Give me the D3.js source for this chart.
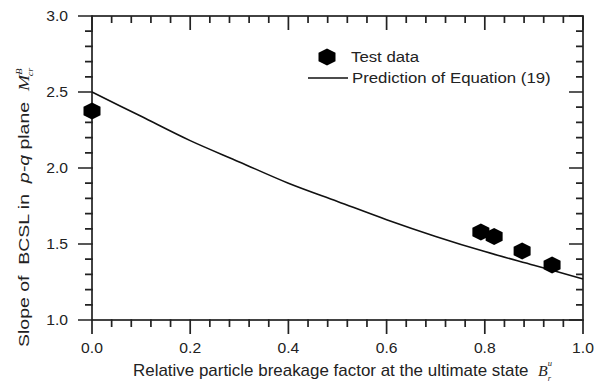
<!DOCTYPE html>
<html>
<head>
<meta charset="utf-8">
<script src="https://cdn.jsdelivr.net/npm/d3@7"></script>
<style>
  html, body { margin: 0; padding: 0; background: #fff; }
  svg { display: block; }
  text { font-family: "Liberation Sans", Arial, sans-serif; fill: #222; white-space: pre; }
</style>
</head>
<body>
<svg id="chart" width="608" height="383"></svg>
<script>
// ---- data ----
const xTickValues = [0.0, 0.2, 0.4, 0.6, 0.8, 1.0];
const xTickLabels = ["0.0", "0.2", "0.4", "0.6", "0.8", "1.0"];
const yTickValues = [1.0, 1.5, 2.0, 2.5, 3.0];
const yTickLabels = ["1.0", "1.5", "2.0", "2.5", "3.0"];

const testB = [0.0, 0.792, 0.819, 0.876, 0.937];
const testM = [2.375, 1.579, 1.549, 1.454, 1.362];

const predB = [0.0, 0.1, 0.2, 0.3, 0.4, 0.5, 0.6, 0.7, 0.8, 0.9, 1.0];
const predM = [2.50, 2.34, 2.18, 2.04, 1.90, 1.78, 1.66, 1.55, 1.45, 1.36, 1.27];

const legendLabels = ["Test data", "Prediction of Equation (19)"];

// ---- layout ----
const svg = d3.select("#chart");
const L = 92, R = 583, T = 16, B = 320;
const x = d3.scaleLinear().domain([0, 1]).range([L, R]);
const y = d3.scaleLinear().domain([1, 3]).range([B, T]);
const axisColor = "#222";
const SX = 1.12;
const SW = 1.7;

const xMinor = d3.range(0, 1.0001, 0.04).filter(v => xTickValues.every(t => Math.abs(t - v) > 1e-6));
const yMinor = d3.range(1, 3.0001, 0.1).filter(v => yTickValues.every(t => Math.abs(t - v) > 1e-6));

// frame
svg.append("rect").attr("x", x(0)).attr("y", y(3))
  .attr("width", x(1) - x(0)).attr("height", y(1) - y(3))
  .attr("fill", "none").attr("stroke", axisColor).attr("stroke-width", SW);

// ticks: one path per side, built from the scales
function sidePath(vals, len, fn) {
  const p = d3.path();
  vals.forEach(v => fn(p, v, len));
  return p.toString();
}
const tickSides = [
  (p, v, len) => { p.moveTo(x(v), B - 0.8); p.lineTo(x(v), B + len); },   // bottom, outward
  (p, v, len) => { p.moveTo(x(v), T); p.lineTo(x(v), T + len); },         // top, inward
];
const yTickSides = [
  (p, v, len) => { p.moveTo(L + 0.8, y(v)); p.lineTo(L - len, y(v)); },   // left, outward
  (p, v, len) => { p.moveTo(R, y(v)); p.lineTo(R - len, y(v)); },         // right, inward
];
tickSides.forEach(fn => {
  svg.append("path").attr("d", sidePath(xMinor, 7, fn) + sidePath(xTickValues, 14, fn))
    .attr("fill", "none").attr("stroke", axisColor).attr("stroke-width", SW);
});
yTickSides.forEach(fn => {
  svg.append("path").attr("d", sidePath(yMinor, 7, fn) + sidePath(yTickValues, 14, fn))
    .attr("fill", "none").attr("stroke", axisColor).attr("stroke-width", SW);
});

// tick labels
svg.append("g").selectAll("text").data(xTickValues).join("text")
  .attr("transform", d => `translate(${x(d)},353) scale(${SX},1)`)
  .attr("text-anchor", "middle").attr("font-size", 14)
  .text((d, i) => xTickLabels[i]);
svg.append("g").selectAll("text").data(yTickValues).join("text")
  .attr("transform", d => `translate(68,${y(d) + 5}) scale(${SX},1)`)
  .attr("text-anchor", "end").attr("font-size", 14)
  .text((d, i) => yTickLabels[i]);

// prediction line
const line = d3.line().x((d, i) => x(predB[i])).y(d => y(d)).curve(d3.curveCatmullRom);
svg.append("path").datum(predM).attr("d", line)
  .attr("fill", "none").attr("stroke", "#111").attr("stroke-width", 1.6);

// hexagon marker (pointy top)
function hexPath(rx, ry) {
  const pts = d3.range(6).map(k => {
    const a = Math.PI / 2 + k * Math.PI / 3;
    return [rx * Math.cos(a) / Math.cos(Math.PI / 6), ry * Math.sin(a)];
  });
  return "M" + pts.map(p => p.join(",")).join("L") + "Z";
}
const hex = hexPath(8.5, 8.5);
svg.append("g").selectAll("path").data(testB).join("path")
  .attr("transform", (d, i) => `translate(${x(d)},${y(testM[i])})`)
  .attr("d", hex).attr("fill", "#000");

// legend
svg.append("path").attr("transform", "translate(327,57)").attr("d", hex).attr("fill", "#000");
svg.append("text").attr("transform", `translate(351,62) scale(${SX},1)`)
  .attr("font-size", 15).text(legendLabels[0]);
svg.append("line").attr("x1", 308).attr("x2", 348).attr("y1", 78).attr("y2", 78)
  .attr("stroke", "#111").attr("stroke-width", 1.6);
svg.append("text").attr("transform", `translate(352,83) scale(${SX},1)`)
  .attr("font-size", 15).text(legendLabels[1]);

// x axis title
const xt = svg.append("text").attr("transform", `translate(133,376) scale(1.06,1)`)
  .attr("font-size", 16);
xt.append("tspan").text("Relative particle breakage factor at the ultimate state  ");
xt.append("tspan").attr("font-family", "Liberation Serif, Times New Roman, serif")
  .attr("font-style", "italic").attr("font-size", 15).text("B");
xt.append("tspan").attr("font-family", "Liberation Serif, serif").attr("font-style", "italic")
  .attr("font-size", 8).attr("dy", -10).attr("dx", 0).text("u");
xt.append("tspan").attr("font-family", "Liberation Serif, serif").attr("font-style", "italic")
  .attr("font-size", 8).attr("dy", 15).attr("dx", -4).text("r");

// y axis title
const yt = svg.append("text").attr("transform", `translate(29,347) rotate(-90) scale(1.3,1)`)
  .attr("font-size", 15);
yt.append("tspan").text("Slope of  BCSL in  ");
yt.append("tspan").attr("font-style", "italic").text("p-q");
yt.append("tspan").text(" plane  ");
yt.append("tspan").attr("font-family", "Liberation Serif, serif").attr("font-style", "italic")
  .attr("font-size", 15).text("M");
yt.append("tspan").attr("font-family", "Liberation Serif, serif").attr("font-style", "italic")
  .attr("font-size", 8).attr("dy", -7).attr("dx", 0).text("B");
yt.append("tspan").attr("font-family", "Liberation Serif, serif").attr("font-style", "italic")
  .attr("font-size", 8).attr("dy", 11).attr("dx", -6).text("cr");
</script>
</body>
</html>
